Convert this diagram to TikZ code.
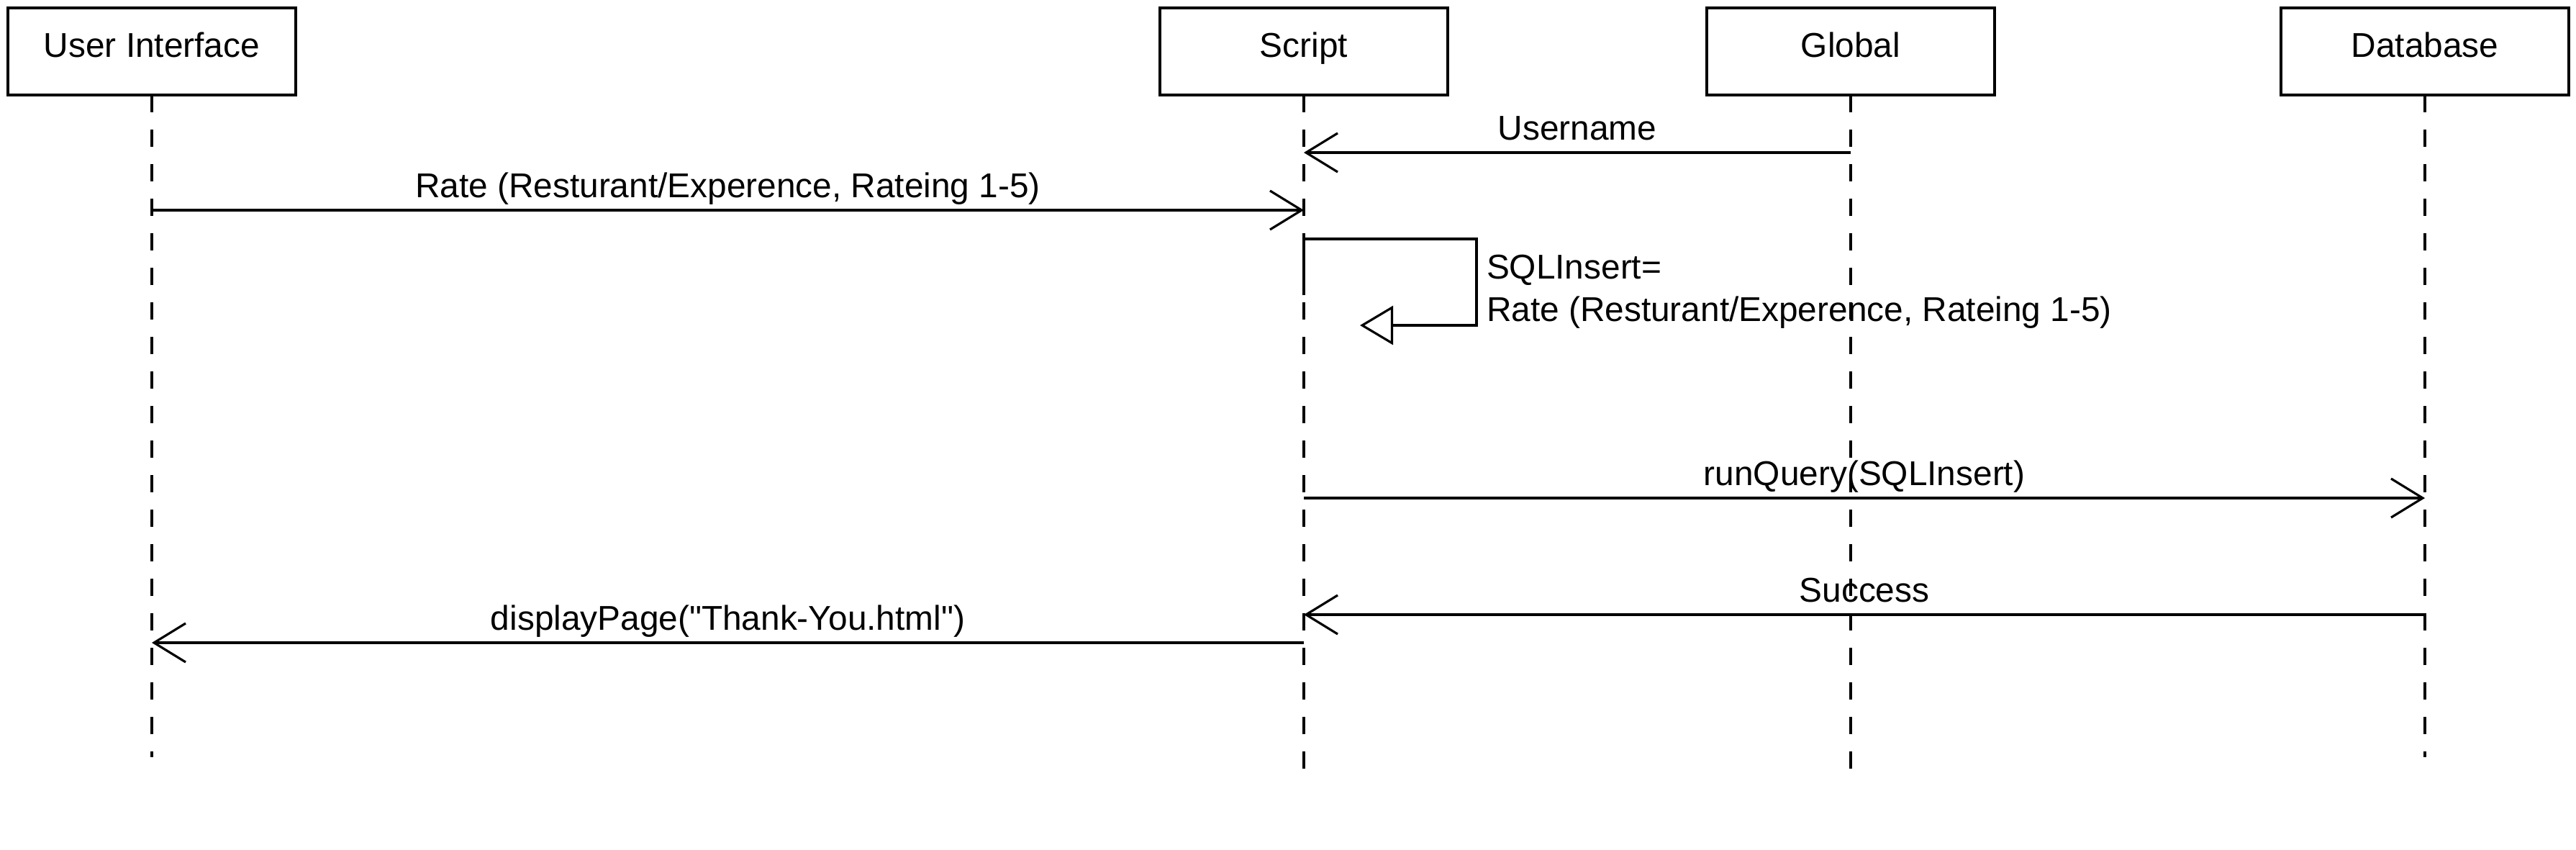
\documentclass[tikz,border=0pt]{standalone}
\usepackage{fontspec}
\setmainfont{Liberation Sans}
\usetikzlibrary{positioning, arrows.meta}

\begin{document}
\begin{tikzpicture}[node distance=0cm, outer sep=0pt, line width=0.9pt,
    font=\fontsize{13.6}{16.8}\selectfont,
    actor/.style={draw, minimum width=4cm, minimum height=1.21cm, text height=0.35cm, text depth=0.2cm},
    lifeline/.style={dash pattern=on 0.24cm off 0.24cm},
    msg/.style={-{Straight Barb[length=0.44cm, width=0.54cm]}},
    selfmsg/.style={-{Triangle[open, length=0.46cm, width=0.54cm]}},
    lbl/.style={midway, anchor=base, yshift=1.8mm}]
    \useasboundingbox (0,0) rectangle (35.8,-11.8);

    % Teilnehmer
    \node[actor] (ui) at (2.11,-0.715) {User Interface};
    \node[actor, right=12.01cm of ui] (script) {Script};
    \node[actor, right=3.60cm of script] (global) {Global};
    \node[actor, right=3.98cm of global] (db) {Database};

    % Lebenslinien
    \coordinate[below=9.20cm of ui.south] (uiEnd);
    \coordinate[below=9.36cm of script.south] (scriptEnd);
    \coordinate[below=9.36cm of global.south] (globalEnd);
    \coordinate[below=9.20cm of db.south] (dbEnd);
    \draw[lifeline] (ui.south) -- (uiEnd);
    \draw[lifeline] (script.south) -- (scriptEnd);
    \draw[lifeline] (global.south) -- (globalEnd);
    \draw[lifeline] (db.south) -- (dbEnd);

    % Nachrichten
    \draw[msg] (global |- 0,-2.12) -- node[lbl] {Username} (script |- 0,-2.12);
    \draw[msg] (ui |- 0,-2.92) -- node[lbl] {Rate (Resturant/Experence, Rateing 1-5)} (script |- 0,-2.92);

    % Selbstaufruf
    \coordinate (selfR) at (20.52,-3.32);
    \coordinate (selfE) at (18.90,-4.52);
    \draw[selfmsg] (script |- 0,-4.10) |- (selfR) |- (selfE);
    \node[below right=0.22cm and 0.14cm of selfR, inner sep=0pt, align=left] (selfLbl) {SQLInsert=\\Rate (Resturant/Experence, Rateing 1-5)};

    \draw[msg] (script |- 0,-6.92) -- node[lbl] {runQuery(SQLInsert)} (db |- 0,-6.92);
    \draw[msg] (db |- 0,-8.54) -- node[lbl] {Success} (script |- 0,-8.54);
    \draw[msg] (script |- 0,-8.93) -- node[lbl] {displayPage(\textquotedbl Thank-You.html\textquotedbl)} (ui |- 0,-8.93);
\end{tikzpicture}
\end{document}
